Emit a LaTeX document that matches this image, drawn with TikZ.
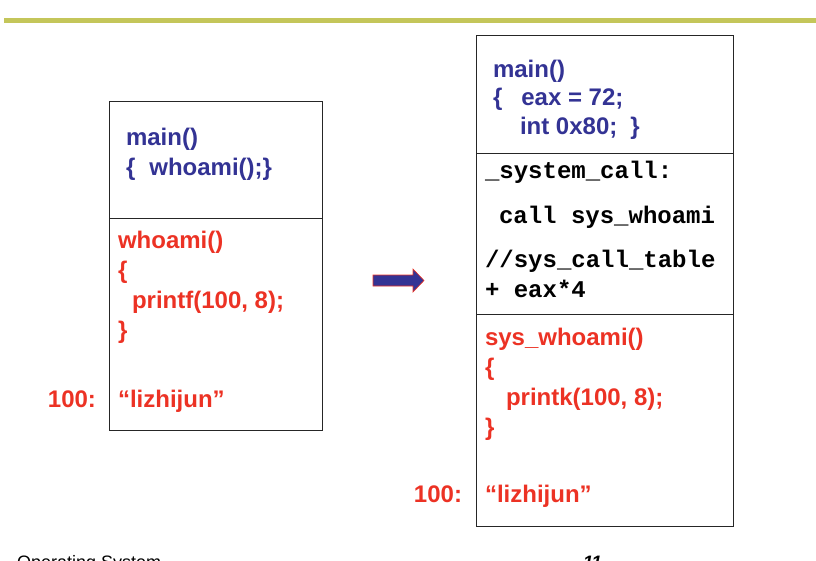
\documentclass[tikz,border=0pt]{standalone}
\usepackage{fontspec}
\setmainfont{Liberation Sans}
\newfontfamily\codemono{Liberation Mono}
\definecolor{barolive}{RGB}{196,198,90}
\definecolor{codeblue}{RGB}{51,51,148}
\definecolor{codered}{RGB}{236,50,36}
\begin{document}
\begin{tikzpicture}[x=1pt,y=-1pt,
  every node/.style={inner sep=0pt,outer sep=0pt},
  txt/.style={anchor=base west,font=\fontsize{24}{30}\selectfont\bfseries},
  bluetxt/.style={txt,text=codeblue},
  redtxt/.style={txt,text=codered},
  monotxt/.style={anchor=base west,font=\fontsize{24}{30}\selectfont\codemono\bfseries,text=black},
  addr/.style={anchor=base east,font=\fontsize{24}{30}\selectfont\bfseries,text=codered},
  memcell/.style={draw=black!85,line width=0.8pt,anchor=north west}]
\useasboundingbox (0,0) rectangle (816,560);
\begin{scope}
\clip (0,0) rectangle (816,560);
% top bar
\fill[barolive] (4,18) rectangle (816,23);

% left box
\node[memcell,minimum width=213pt,minimum height=117pt] (lmain) at (109,101) {};
\node[memcell,minimum width=213pt,minimum height=212pt] (lfunc) at (109,218) {};

\node[bluetxt] (lm1) at (126,145) {main()};
\node[bluetxt] (lm2) at (126,175) {\{\hspace{14pt}whoami();\}};

\node[redtxt] (lf1) at (118,248) {whoami()};
\node[redtxt] (lf2) at (118,278) {\{};
\node[redtxt] (lf3) at (132,308) {printf(100, 8);};
\node[redtxt] (lf4) at (118,338) {\}};
\node[redtxt] (lf5) at (118,407) {“lizhijun”};
\node[addr] (la) at (96,407) {100:};

% arrow
\filldraw[fill=codeblue,draw=codered,line width=0.6pt]
  (373,275) -- (413,275) -- (413,269) -- (424,280.5) -- (413,292) -- (413,286) -- (373,286) -- cycle;

% right box
\node[memcell,minimum width=257pt,minimum height=118pt] (rmain) at (476,35) {};
\node[memcell,minimum width=257pt,minimum height=161pt] (rsys) at (476,153) {};
\node[memcell,minimum width=257pt,minimum height=212pt] (rfunc) at (476,314) {};

\node[bluetxt] (rm1) at (493,77) {main()};
\node[bluetxt] (rm2) at (493,105.5) {\{\hspace{19pt}eax = 72;};
\node[bluetxt] (rm3) at (520,134) {int 0x80;\hspace{13pt}\}};

\node[monotxt] (rs1) at (485,178) {\_system\_call:};
\node[monotxt] (rs2) at (499,223) {call sys\_whoami};
\node[monotxt] (rs3) at (485,267) {//sys\_call\_table};
\node[monotxt] (rs4) at (485,297) {+ eax*4};

\node[redtxt] (rf1) at (485,345) {sys\_whoami()};
\node[redtxt] (rf2) at (485,375) {\{};
\node[redtxt] (rf3) at (506,405) {printk(100, 8);};
\node[redtxt] (rf4) at (485,435) {\}};
\node[redtxt] (rf5) at (485,502) {“lizhijun”};
\node[addr] (ra) at (462,502) {100:};

% footer (cut off at page edge)
\node[anchor=base west,font=\fontsize{18}{20}\selectfont] (foot) at (17,568) {Operating System};
\node[anchor=base west,font=\fontsize{18}{20}\selectfont\bfseries\itshape] (pnum) at (583,568) {11};
\end{scope}
\end{tikzpicture}
\end{document}
